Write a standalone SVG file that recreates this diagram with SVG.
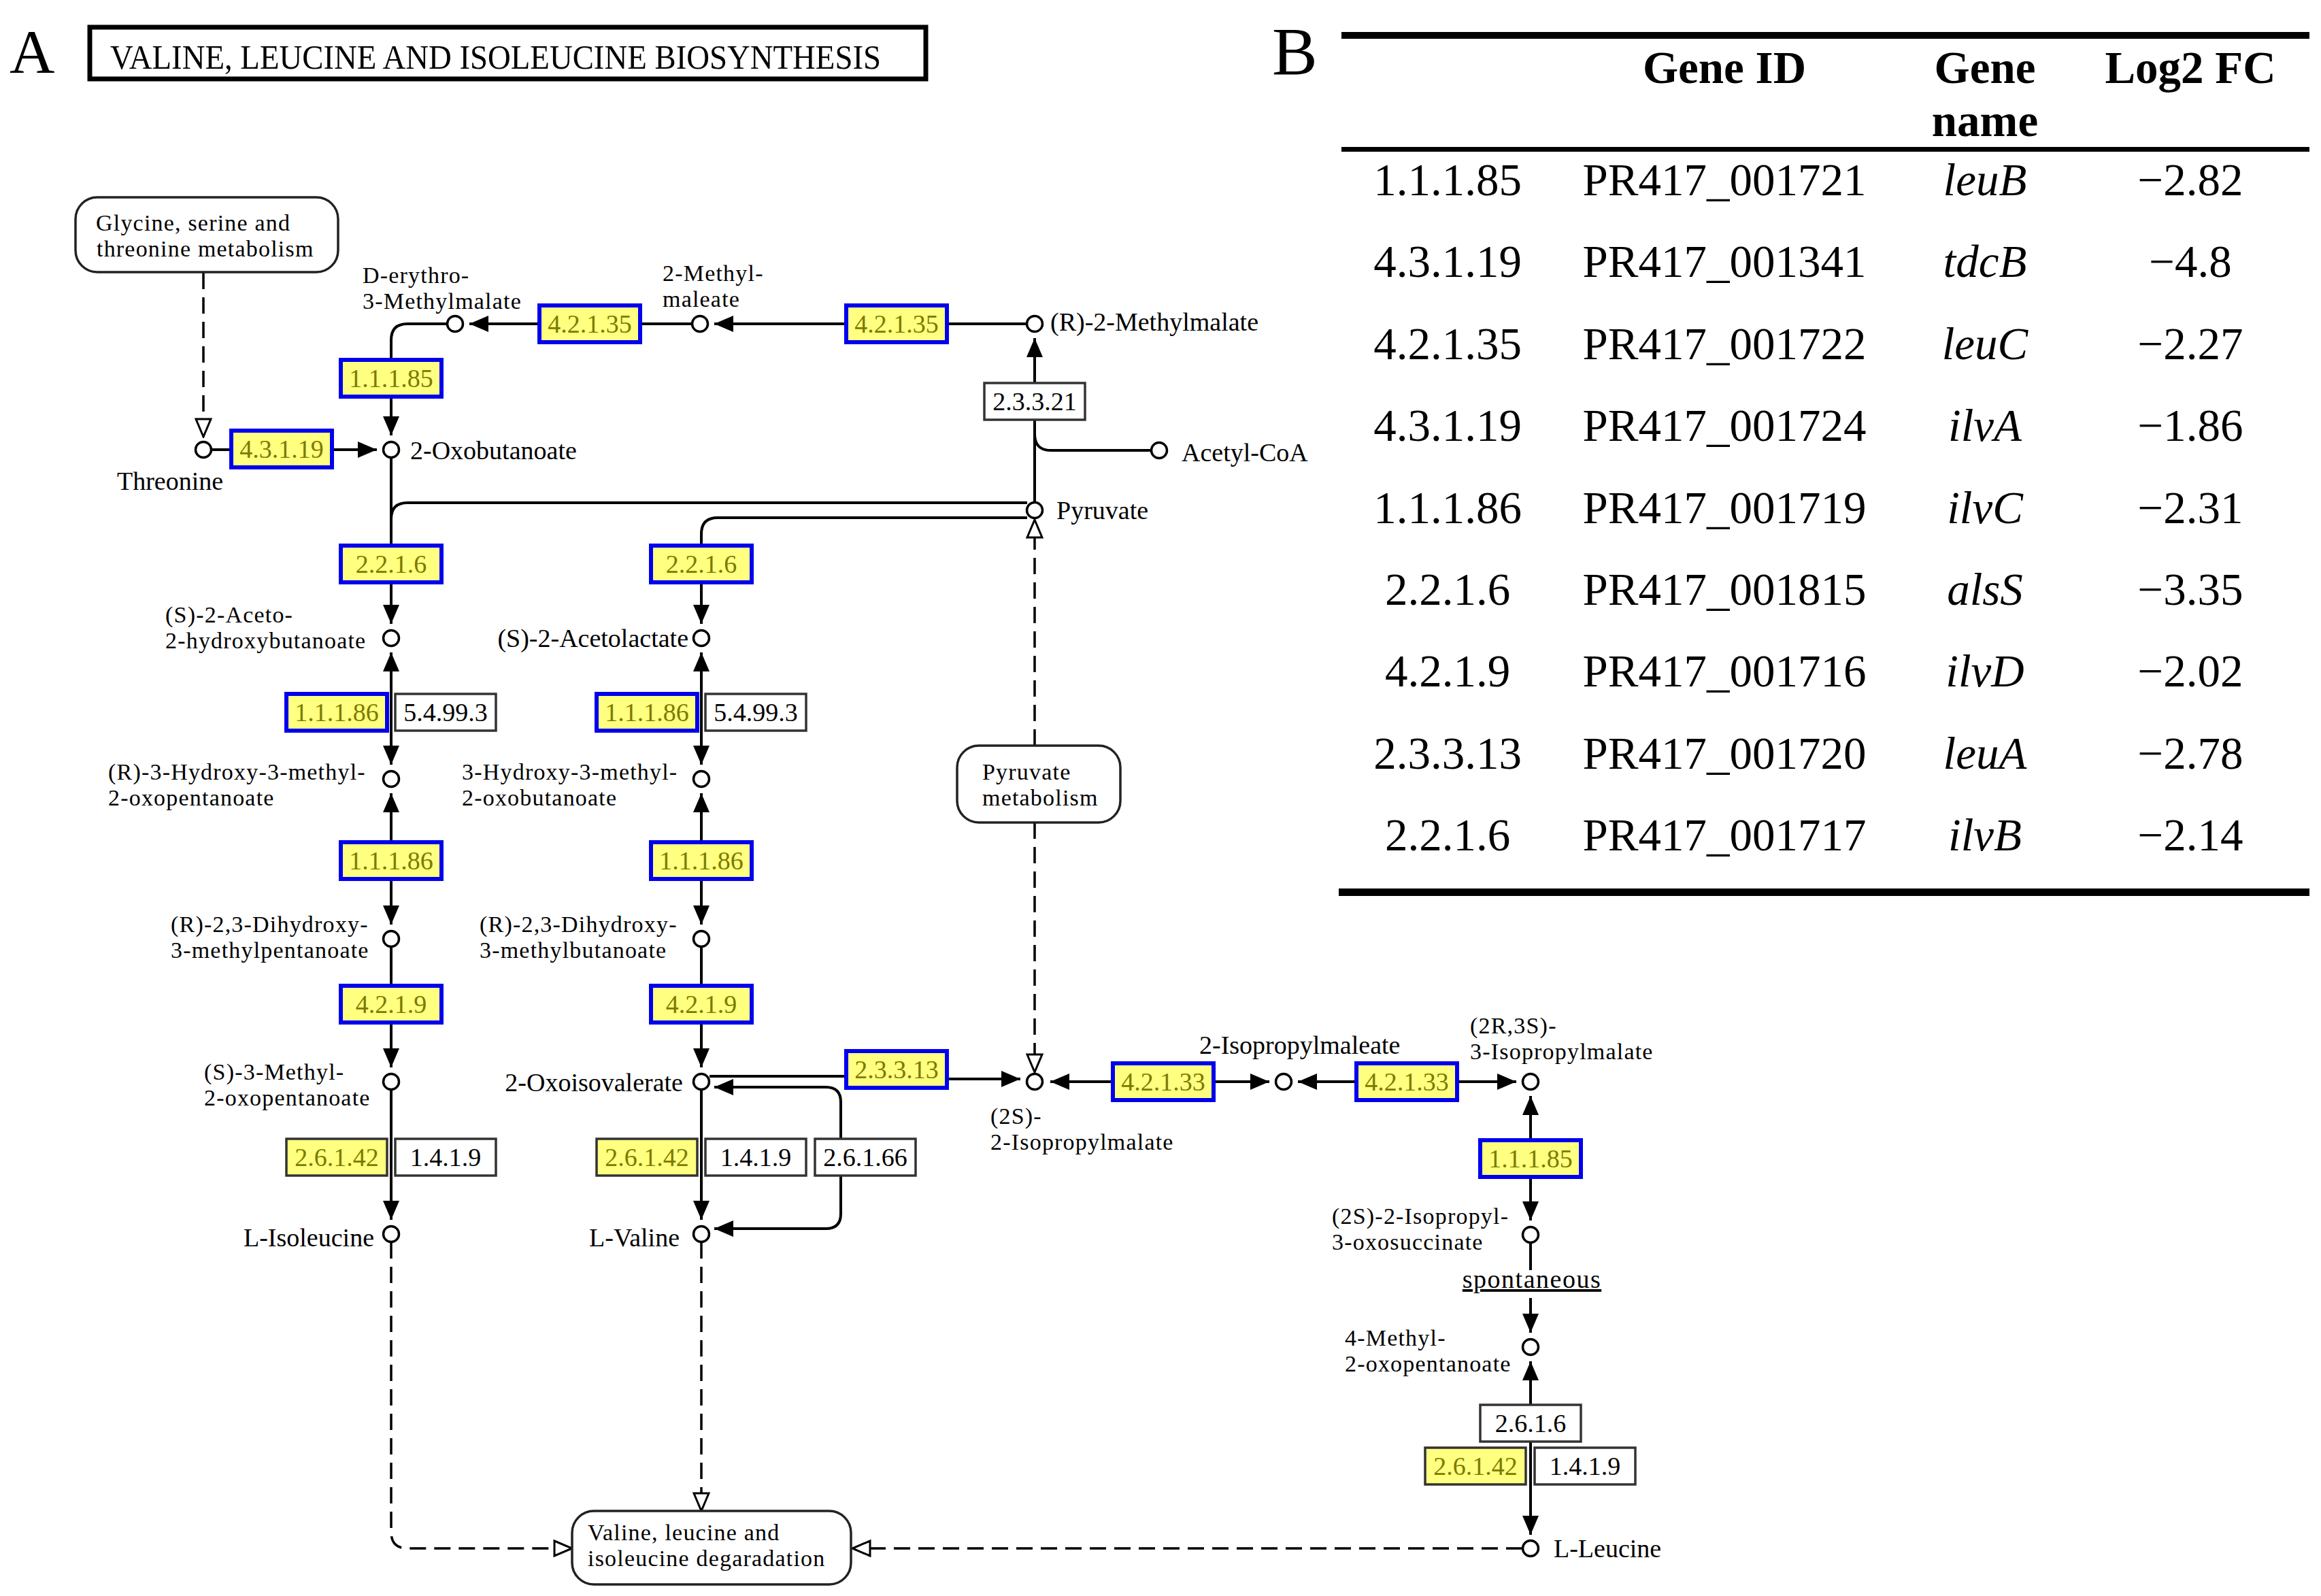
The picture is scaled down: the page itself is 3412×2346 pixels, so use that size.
<svg xmlns="http://www.w3.org/2000/svg" width="3412" height="2346" viewBox="0 0 3412 2346">
<defs>
<style>
.lbl{font-family:"Liberation Serif","Times New Roman",serif;font-size:38px;fill:#000}
.l2{font-size:34px;letter-spacing:1.2px}
.ec{font-family:"Liberation Serif","Times New Roman",serif;font-size:38px;text-anchor:middle;fill:#000}
.ech{fill:#7b7b00}
.hl{fill:#ffff80;stroke:#0000ee;stroke-width:6}
.yl{fill:#ffff80;stroke:#333;stroke-width:3.5}
.wh{fill:#fff;stroke:#333;stroke-width:3.5}
.pw{fill:#fff;stroke:#222;stroke-width:3.5}
.cp{fill:#fff;stroke:#000;stroke-width:3.5}
.ln{fill:none;stroke:#000;stroke-width:4}
.ds{stroke-dasharray:24 12;stroke-width:3.5}
.tb{font-family:"Liberation Serif","Times New Roman",serif;font-size:67px;text-anchor:middle;fill:#000}
.th{font-weight:bold}
.it{font-style:italic}
.ae{marker-end:url(#ah)}
.as{marker-start:url(#ah)}
.ab{marker-start:url(#ah);marker-end:url(#ah)}
.oe{marker-end:url(#oh)}
</style>
<marker id="ah" viewBox="0 0 28 24" refX="28" refY="12" markerWidth="28" markerHeight="24" orient="auto-start-reverse" markerUnits="userSpaceOnUse"><path d="M0,0L28,12L0,24z" fill="#000"/></marker>
<marker id="oh" viewBox="0 0 30 26" refX="2" refY="13" markerWidth="30" markerHeight="26" orient="auto-start-reverse" markerUnits="userSpaceOnUse"><path d="M2,2L28,13L2,24z" fill="#fff" stroke="#000" stroke-width="3" stroke-dasharray="none"/></marker>
</defs>
<rect width="3412" height="2346" fill="#fff"/>

<g id="title">
<text x="14" y="107" font-family="Liberation Serif, serif" font-size="92">A</text>
<rect x="132" y="40" width="1229" height="76" fill="none" stroke="#000" stroke-width="7"/>
<text x="162" y="101" font-family="Liberation Serif, serif" font-size="50" textLength="1133" lengthAdjust="spacingAndGlyphs">VALINE, LEUCINE AND ISOLEUCINE BIOSYNTHESIS</text>
</g>

<g id="connectors">
<path class="ln" d="M1509,476H1392"/>
<path class="ln ae" d="M1244,476H1050"/>
<path class="ln" d="M1017,476H941"/>
<path class="ln ae" d="M793,476H690"/>
<path class="ln" d="M657,476H599Q575,476 575,500V529"/>
<path class="ln ae" d="M575,583V640"/>
<path class="ln" d="M311,661H340"/>
<path class="ln ae" d="M488,661H554"/>
<path class="ln ds oe" d="M299,401V616"/>
<path class="ln" d="M1521,738V617"/>
<path class="ln ae" d="M1521,563V497"/>
<path class="ln" d="M1692,662H1545Q1521,662 1521,638"/>
<path class="ln" d="M1510,739H599Q575,739 575,763"/>
<path class="ln" d="M575,673V802"/>
<path class="ln" d="M1510,761H1055Q1031,761 1031,785V802"/>
<path class="ln ae" d="M575,856V917"/>
<path class="ln ab" d="M575,959V1124"/>
<path class="ln ab" d="M575,1166V1359"/>
<path class="ln" d="M575,1392V1449"/>
<path class="ln ae" d="M575,1503V1569"/>
<path class="ln ae" d="M575,1602V1793"/>
<path class="ln ds oe" d="M575,1826V2252Q575,2276 599,2276H815"/>
<path class="ln ae" d="M1031,856V917"/>
<path class="ln ab" d="M1031,959V1124"/>
<path class="ln ab" d="M1031,1166V1359"/>
<path class="ln" d="M1031,1392V1449"/>
<path class="ln ae" d="M1031,1503V1569"/>
<path class="ln ae" d="M1031,1602V1793"/>
<path class="ln ds oe" d="M1031,1826V2195"/>
<path class="ln" d="M1043,1582H1244"/>
<path class="ln ae" d="M1392,1586H1500"/>
<path class="ln ab" d="M1050,1598H1214Q1236,1598 1236,1620V1784Q1236,1806 1214,1806H1050"/>
<path class="ln ds oe" d="M1521,1096V790"/>
<path class="ln ds oe" d="M1521,1209V1550"/>
<path class="ln as" d="M1544,1590H1636"/>
<path class="ln ae" d="M1784,1590H1866"/>
<path class="ln as" d="M1908,1590H1994"/>
<path class="ln ae" d="M2142,1590H2229"/>
<path class="ln as" d="M2250,1611V1676"/>
<path class="ln ae" d="M2250,1730V1794"/>
<path class="ln" d="M2250,1827V1867"/>
<path class="ln ae" d="M2250,1908V1959"/>
<path class="ln as" d="M2250,2001V2065"/>
<path class="ln ae" d="M2250,2119V2256"/>
<path class="ln ds oe" d="M2238,2276H1279"/>
</g>

<g id="pathways">
<g id="pw-glycine"><rect class="pw" x="111" y="290" width="386" height="110" rx="32"/>
<text class="lbl l2" x="141" y="339">Glycine, serine and</text><text class="lbl l2" x="142" y="377">threonine metabolism</text></g>
<g id="pw-pyruvate"><rect class="pw" x="1407" y="1096" width="240" height="113" rx="32"/>
<text class="lbl l2" x="1444" y="1146">Pyruvate</text><text class="lbl l2" x="1444" y="1184">metabolism</text></g>
<g id="pw-degradation"><rect class="pw" x="841" y="2221" width="410" height="108" rx="32"/>
<text class="lbl l2" x="864" y="2264">Valine, leucine and</text><text class="lbl l2" x="864" y="2302">isoleucine degaradation</text></g>
</g>

<g id="enzymes">
<g id="ec-4-3-1-19"><rect class="hl" x="340" y="633" width="148" height="54"/><text class="ec ech" x="414" y="673">4.3.1.19</text></g>
<g id="ec-1-1-1-85-a"><rect class="hl" x="501" y="529" width="148" height="54"/><text class="ec ech" x="575" y="569">1.1.1.85</text></g>
<g id="ec-4-2-1-35-a"><rect class="hl" x="793" y="449" width="148" height="54"/><text class="ec ech" x="867" y="489">4.2.1.35</text></g>
<g id="ec-4-2-1-35-b"><rect class="hl" x="1244" y="449" width="148" height="54"/><text class="ec ech" x="1318" y="489">4.2.1.35</text></g>
<g id="ec-2-3-3-21"><rect class="wh" x="1447" y="563" width="148" height="54"/><text class="ec" x="1521" y="603">2.3.3.21</text></g>
<g id="ec-2-2-1-6-a"><rect class="hl" x="501" y="802" width="148" height="54"/><text class="ec ech" x="575" y="842">2.2.1.6</text></g>
<g id="ec-2-2-1-6-b"><rect class="hl" x="957" y="802" width="148" height="54"/><text class="ec ech" x="1031" y="842">2.2.1.6</text></g>
<g id="ec-1-1-1-86-a"><rect class="hl" x="421" y="1020" width="148" height="54"/><text class="ec ech" x="495" y="1060">1.1.1.86</text></g>
<g id="ec-5-4-99-3-a"><rect class="wh" x="581" y="1020" width="148" height="54"/><text class="ec" x="655" y="1060">5.4.99.3</text></g>
<g id="ec-1-1-1-86-b"><rect class="hl" x="877" y="1020" width="148" height="54"/><text class="ec ech" x="951" y="1060">1.1.1.86</text></g>
<g id="ec-5-4-99-3-b"><rect class="wh" x="1037" y="1020" width="148" height="54"/><text class="ec" x="1111" y="1060">5.4.99.3</text></g>
<g id="ec-1-1-1-86-c"><rect class="hl" x="501" y="1238" width="148" height="54"/><text class="ec ech" x="575" y="1278">1.1.1.86</text></g>
<g id="ec-1-1-1-86-d"><rect class="hl" x="957" y="1238" width="148" height="54"/><text class="ec ech" x="1031" y="1278">1.1.1.86</text></g>
<g id="ec-4-2-1-9-a"><rect class="hl" x="501" y="1449" width="148" height="54"/><text class="ec ech" x="575" y="1489">4.2.1.9</text></g>
<g id="ec-4-2-1-9-b"><rect class="hl" x="957" y="1449" width="148" height="54"/><text class="ec ech" x="1031" y="1489">4.2.1.9</text></g>
<g id="ec-2-6-1-42-a"><rect class="yl" x="421" y="1674" width="148" height="54"/><text class="ec ech" x="495" y="1714">2.6.1.42</text></g>
<g id="ec-1-4-1-9-a"><rect class="wh" x="581" y="1674" width="148" height="54"/><text class="ec" x="655" y="1714">1.4.1.9</text></g>
<g id="ec-2-6-1-42-b"><rect class="yl" x="877" y="1674" width="148" height="54"/><text class="ec ech" x="951" y="1714">2.6.1.42</text></g>
<g id="ec-1-4-1-9-b"><rect class="wh" x="1037" y="1674" width="148" height="54"/><text class="ec" x="1111" y="1714">1.4.1.9</text></g>
<g id="ec-2-6-1-66"><rect class="wh" x="1198" y="1674" width="148" height="54"/><text class="ec" x="1272" y="1714">2.6.1.66</text></g>
<g id="ec-2-3-3-13"><rect class="hl" x="1244" y="1545" width="148" height="54"/><text class="ec ech" x="1318" y="1585">2.3.3.13</text></g>
<g id="ec-4-2-1-33-a"><rect class="hl" x="1636" y="1563" width="148" height="54"/><text class="ec ech" x="1710" y="1603">4.2.1.33</text></g>
<g id="ec-4-2-1-33-b"><rect class="hl" x="1994" y="1563" width="148" height="54"/><text class="ec ech" x="2068" y="1603">4.2.1.33</text></g>
<g id="ec-1-1-1-85-b"><rect class="hl" x="2176" y="1676" width="148" height="54"/><text class="ec ech" x="2250" y="1716">1.1.1.85</text></g>
<g id="ec-2-6-1-6"><rect class="wh" x="2176" y="2065" width="148" height="54"/><text class="ec" x="2250" y="2105">2.6.1.6</text></g>
<g id="ec-2-6-1-42-c"><rect class="yl" x="2095" y="2128" width="148" height="54"/><text class="ec ech" x="2169" y="2168">2.6.1.42</text></g>
<g id="ec-1-4-1-9-c"><rect class="wh" x="2256" y="2128" width="148" height="54"/><text class="ec" x="2330" y="2168">1.4.1.9</text></g>
</g>

<g id="compounds">
<g id="c-threonine"><circle class="cp" cx="299" cy="661" r="11.5"/><text class="lbl" x="172" y="720">Threonine</text></g>
<g id="c-2-oxobutanoate"><circle class="cp" cx="575" cy="661" r="11.5"/><text class="lbl" x="603" y="675">2-Oxobutanoate</text></g>
<g id="c-d-erythro"><circle class="cp" cx="669" cy="476" r="11.5"/><text class="lbl l2" x="533" y="416">D-erythro-</text><text class="lbl l2" x="533" y="454">3-Methylmalate</text></g>
<g id="c-2-methylmaleate"><circle class="cp" cx="1029" cy="476" r="11.5"/><text class="lbl l2" x="974" y="413">2-Methyl-</text><text class="lbl l2" x="974" y="451">maleate</text></g>
<g id="c-r-2-methylmalate"><circle class="cp" cx="1521" cy="476" r="11.5"/><text class="lbl" x="1544" y="486">(R)-2-Methylmalate</text></g>
<g id="c-acetyl-coa"><circle class="cp" cx="1704" cy="662" r="11.5"/><text class="lbl" x="1737" y="678">Acetyl-CoA</text></g>
<g id="c-pyruvate"><circle class="cp" cx="1521" cy="750" r="11.5"/><text class="lbl" x="1553" y="763">Pyruvate</text></g>
<g id="c-aceto-hydroxybutanoate"><circle class="cp" cx="575" cy="938" r="11.5"/><text class="lbl l2" x="243" y="915">(S)-2-Aceto-</text><text class="lbl l2" x="243" y="953">2-hydroxybutanoate</text></g>
<g id="c-acetolactate"><circle class="cp" cx="1031" cy="938" r="11.5"/><text class="lbl" x="1012" y="951" text-anchor="end">(S)-2-Acetolactate</text></g>
<g id="c-hydroxy-oxopentanoate"><circle class="cp" cx="575" cy="1145" r="11.5"/><text class="lbl l2" x="159" y="1146">(R)-3-Hydroxy-3-methyl-</text><text class="lbl l2" x="159" y="1184">2-oxopentanoate</text></g>
<g id="c-hydroxy-oxobutanoate"><circle class="cp" cx="1031" cy="1145" r="11.5"/><text class="lbl l2" x="679" y="1146">3-Hydroxy-3-methyl-</text><text class="lbl l2" x="679" y="1184">2-oxobutanoate</text></g>
<g id="c-dihydroxy-pentanoate"><circle class="cp" cx="575" cy="1380" r="11.5"/><text class="lbl l2" x="251" y="1370">(R)-2,3-Dihydroxy-</text><text class="lbl l2" x="251" y="1408">3-methylpentanoate</text></g>
<g id="c-dihydroxy-butanoate"><circle class="cp" cx="1031" cy="1380" r="11.5"/><text class="lbl l2" x="705" y="1370">(R)-2,3-Dihydroxy-</text><text class="lbl l2" x="705" y="1408">3-methylbutanoate</text></g>
<g id="c-methyl-oxopentanoate"><circle class="cp" cx="575" cy="1590" r="11.5"/><text class="lbl l2" x="300" y="1587">(S)-3-Methyl-</text><text class="lbl l2" x="300" y="1625">2-oxopentanoate</text></g>
<g id="c-2-oxoisovalerate"><circle class="cp" cx="1031" cy="1590" r="11.5"/><text class="lbl" x="1004" y="1604" text-anchor="end">2-Oxoisovalerate</text></g>
<g id="c-l-isoleucine"><circle class="cp" cx="575" cy="1814" r="11.5"/><text class="lbl" x="550" y="1832" text-anchor="end">L-Isoleucine</text></g>
<g id="c-l-valine"><circle class="cp" cx="1031" cy="1814" r="11.5"/><text class="lbl" x="999" y="1832" text-anchor="end">L-Valine</text></g>
<g id="c-2s-isopropylmalate"><circle class="cp" cx="1521" cy="1590" r="11.5"/><text class="lbl l2" x="1456" y="1652">(2S)-</text><text class="lbl l2" x="1456" y="1690">2-Isopropylmalate</text></g>
<g id="c-isopropylmaleate"><circle class="cp" cx="1887" cy="1590" r="11.5"/><text class="lbl" x="1763" y="1549">2-Isopropylmaleate</text></g>
<g id="c-3-isopropylmalate"><circle class="cp" cx="2250" cy="1590" r="11.5"/><text class="lbl l2" x="2161" y="1519">(2R,3S)-</text><text class="lbl l2" x="2161" y="1557">3-Isopropylmalate</text></g>
<g id="c-oxosuccinate"><circle class="cp" cx="2250" cy="1815" r="11.5"/><text class="lbl l2" x="1958" y="1799">(2S)-2-Isopropyl-</text><text class="lbl l2" x="1958" y="1837">3-oxosuccinate</text></g>
<g id="t-spontaneous"><text class="lbl" x="2252" y="1893" text-anchor="middle" font-size="34" letter-spacing="1.5" text-decoration="underline">spontaneous</text></g>
<g id="c-4-methyl-oxopentanoate"><circle class="cp" cx="2250" cy="1980" r="11.5"/><text class="lbl l2" x="1977" y="1978">4-Methyl-</text><text class="lbl l2" x="1977" y="2016">2-oxopentanoate</text></g>
<g id="c-l-leucine"><circle class="cp" cx="2250" cy="2276" r="11.5"/><text class="lbl" x="2284" y="2289">L-Leucine</text></g>
</g>

<g id="table">
<text x="1870" y="109" font-family="Liberation Serif, serif" font-size="100">B</text>
<rect x="1972" y="47" width="1423" height="10" fill="#000"/>
<rect x="1972" y="216" width="1423" height="7" fill="#000"/>
<rect x="1968" y="1306" width="1427" height="11" fill="#000"/>
<text class="tb th" x="2535" y="122">Gene ID</text>
<text class="tb th" x="2918" y="122">Gene</text>
<text class="tb th" x="2918" y="200">name</text>
<text class="tb th" x="3220" y="122">Log2 FC</text>
<g><text class="tb" x="2128" y="287">1.1.1.85</text><text class="tb" x="2535" y="287">PR417_001721</text><text class="tb it" x="2918" y="287">leuB</text><text class="tb" x="3220" y="287">−2.82</text></g>
<g><text class="tb" x="2128" y="407">4.3.1.19</text><text class="tb" x="2535" y="407">PR417_001341</text><text class="tb it" x="2918" y="407">tdcB</text><text class="tb" x="3220" y="407">−4.8</text></g>
<g><text class="tb" x="2128" y="528">4.2.1.35</text><text class="tb" x="2535" y="528">PR417_001722</text><text class="tb it" x="2918" y="528">leuC</text><text class="tb" x="3220" y="528">−2.27</text></g>
<g><text class="tb" x="2128" y="648">4.3.1.19</text><text class="tb" x="2535" y="648">PR417_001724</text><text class="tb it" x="2918" y="648">ilvA</text><text class="tb" x="3220" y="648">−1.86</text></g>
<g><text class="tb" x="2128" y="769">1.1.1.86</text><text class="tb" x="2535" y="769">PR417_001719</text><text class="tb it" x="2918" y="769">ilvC</text><text class="tb" x="3220" y="769">−2.31</text></g>
<g><text class="tb" x="2128" y="889">2.2.1.6</text><text class="tb" x="2535" y="889">PR417_001815</text><text class="tb it" x="2918" y="889">alsS</text><text class="tb" x="3220" y="889">−3.35</text></g>
<g><text class="tb" x="2128" y="1009">4.2.1.9</text><text class="tb" x="2535" y="1009">PR417_001716</text><text class="tb it" x="2918" y="1009">ilvD</text><text class="tb" x="3220" y="1009">−2.02</text></g>
<g><text class="tb" x="2128" y="1130">2.3.3.13</text><text class="tb" x="2535" y="1130">PR417_001720</text><text class="tb it" x="2918" y="1130">leuA</text><text class="tb" x="3220" y="1130">−2.78</text></g>
<g><text class="tb" x="2128" y="1250">2.2.1.6</text><text class="tb" x="2535" y="1250">PR417_001717</text><text class="tb it" x="2918" y="1250">ilvB</text><text class="tb" x="3220" y="1250">−2.14</text></g>
</g>
</svg>
